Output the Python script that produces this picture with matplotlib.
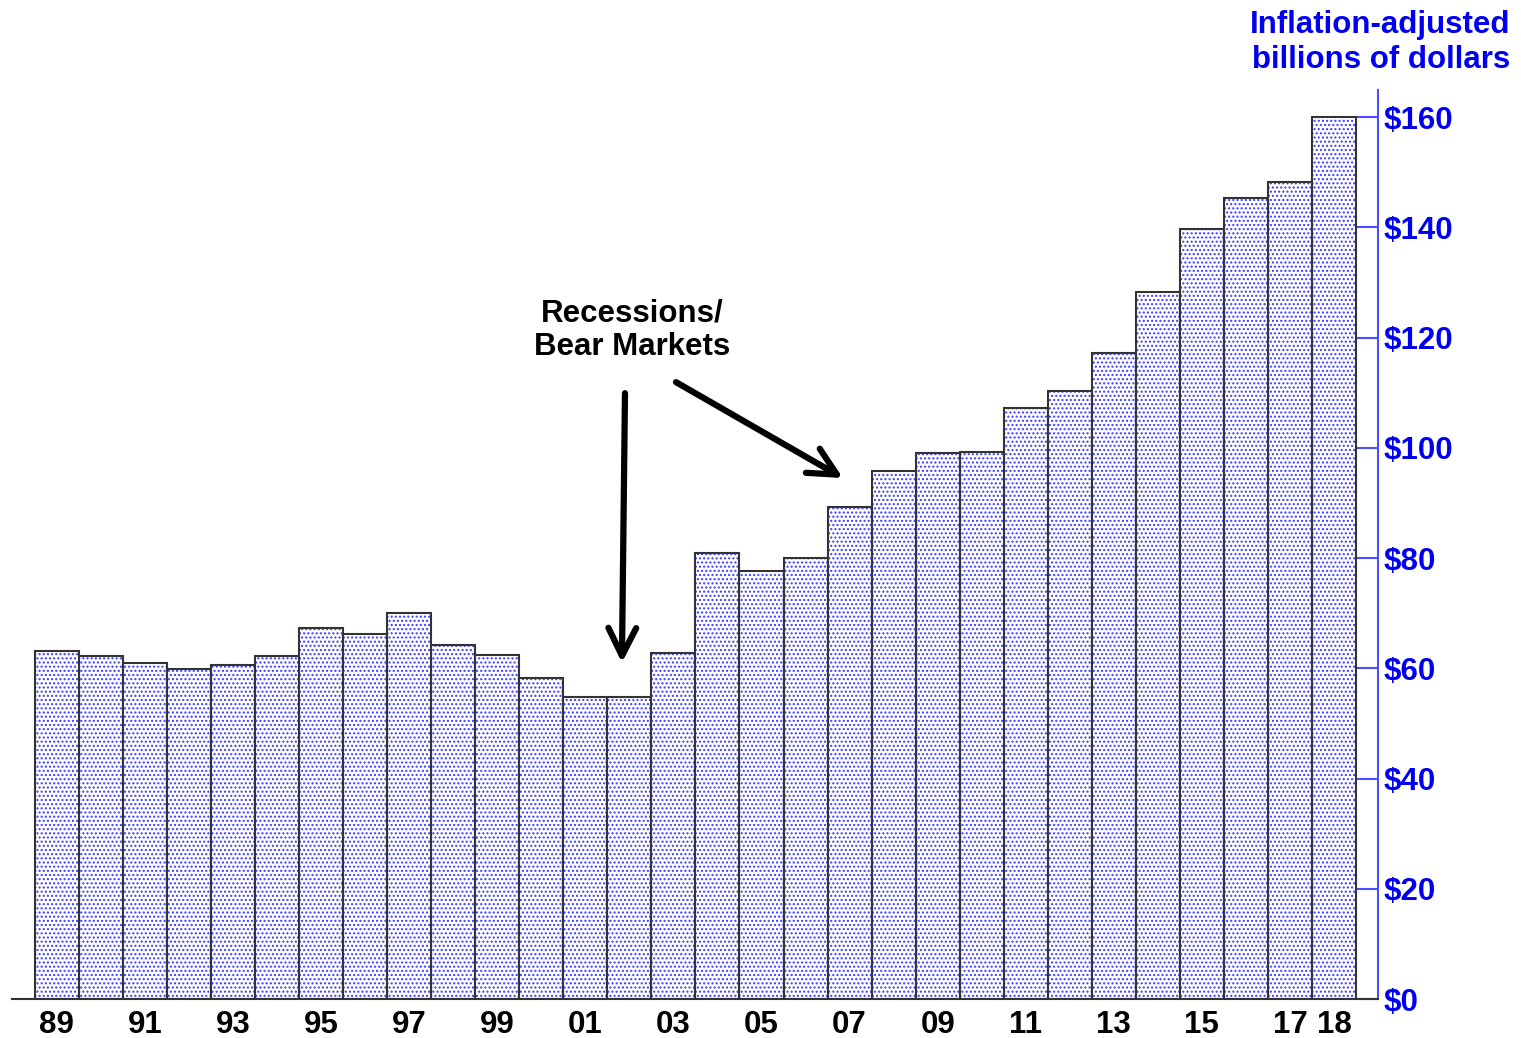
import matplotlib.pyplot as plt
import numpy as np

plt.rcParams['font.family'] = ['Liberation Sans', 'DejaVu Sans']
plt.rcParams['font.weight'] = 'bold'
plt.rcParams['hatch.linewidth'] = 1.0

# valori (miliardi di dollari, corretti per l'inflazione)
years = list(range(1989, 2019))
values = [63.1, 62.2, 61.0, 59.9, 60.6, 62.2, 67.3, 66.2, 70.0, 64.2,
          62.4, 58.2, 54.8, 54.8, 62.8, 80.9, 77.6, 80.0, 89.3, 95.8,
          99.0, 99.2, 107.2, 110.3, 117.2, 128.3, 139.7, 145.3, 148.2, 160.0]
tick_years = [1989, 1991, 1993, 1995, 1997, 1999, 2001, 2003, 2005,
              2007, 2009, 2011, 2013, 2015, 2017, 2018]
y_ticks = [0, 20, 40, 60, 80, 100, 120, 140, 160]

blue = '#0000ee'
axis_blue = '#4d4dff'

fig = plt.figure(figsize=(15.21, 10.38), dpi=100)
ax = fig.add_axes([12 / 1521, 39 / 1038, 1366 / 1521, 909 / 1038])

x = np.arange(len(years))
# riempimento a puntini blu
ax.bar(x, values, width=1.0, color='white', edgecolor='#3a3aff',
       hatch='....', linewidth=0, zorder=2)
# contorno scuro
ax.bar(x, values, width=1.0, fill=False, edgecolor='#333333',
       linewidth=1.5, zorder=3)

ax.set_xlim(-1.02, 30.0)
ax.set_ylim(0, 164.9)

# asse destro
ax.yaxis.tick_right()
ax.set_yticks(y_ticks)
ax.set_yticklabels([f'${v}' for v in y_ticks], color=blue, fontsize=22.5,
                   fontweight='bold')
ax.tick_params(axis='y', direction='in', length=16, width=1.5,
               color=axis_blue, pad=4)

ax.set_xticks([years.index(y) for y in tick_years])
ax.set_xticklabels([f'{y % 100:02d}' for y in tick_years], fontsize=22.5,
                   fontweight='bold')
ax.tick_params(axis='x', length=0, pad=8)

for s in ['top', 'left']:
    ax.spines[s].set_visible(False)
ax.spines['right'].set_color(axis_blue)
ax.spines['right'].set_linewidth(1.5)
ax.spines['bottom'].set_color('#333333')
ax.spines['bottom'].set_linewidth(1.5)

fig.text(1510 / 1521, 1 - 25 / 1038, 'Inflation-adjusted', color=blue,
         fontsize=22.5, fontweight='bold', ha='right', va='center')
fig.text(1510 / 1521, 1 - 60 / 1038, 'billions of dollars', color=blue,
         fontsize=22.5, fontweight='bold', ha='right', va='center')

# annotazione recessioni
fig.text(632 / 1521, 1 - 330 / 1038, 'Recessions/\nBear Markets',
         fontsize=22.5, fontweight='bold', ha='center', va='center',
         linespacing=1.17)
arrow = dict(arrowstyle='->', lw=4.5, color='black', mutation_scale=50,
             shrinkA=0, shrinkB=0)
ax.annotate('', xy=(12.83, 61.0), xytext=(12.9, 109.9), arrowprops=arrow)
ax.annotate('', xy=(17.85, 94.5), xytext=(14.06, 111.9), arrowprops=arrow)

fig.savefig('out.png', dpi=100)
